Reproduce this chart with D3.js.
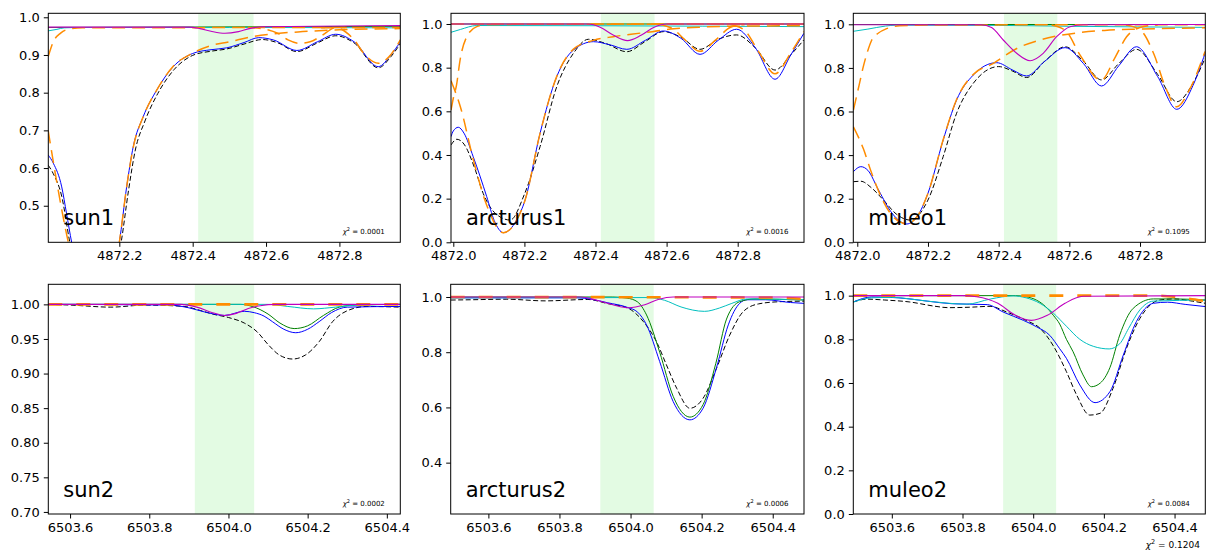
<!DOCTYPE html>
<html><head><meta charset="utf-8">
<script src="https://cdn.jsdelivr.net/npm/d3@7"></script>
<style>body{margin:0;background:#fff} svg{display:block} text{font-family:"DejaVu Sans",sans-serif}</style>
</head><body><svg id="c" width="1206" height="553"></svg>
<script>
// ---------- tick labels ----------
const xTicksSun1 = [4872.2, 4872.4, 4872.6, 4872.8];
const xTicksRow1 = [4872.0, 4872.2, 4872.4, 4872.6, 4872.8];
const xTicksRow2 = [6503.6, 6503.8, 6504.0, 6504.2, 6504.4];
const yTicksSun1 = [0.5, 0.6, 0.7, 0.8, 0.9, 1.0];
const yTicksFull = [0.0, 0.2, 0.4, 0.6, 0.8, 1.0];
const yTicksSun2 = [0.70, 0.75, 0.80, 0.85, 0.90, 0.95, 1.00];
const yTicksArc2 = [0.4, 0.6, 0.8, 1.0];
const panelNames = ["sun1", "arcturus1", "muleo1", "sun2", "arcturus2", "muleo2"];
const chiValues = ["0.0001", "0.0016", "0.1095", "0.0002", "0.0006", "0.0084"];
const chiTotal = "0.1204";
const bandRow1 = [4872.415, 4872.566];
const bandRow2 = [6503.915, 6504.065];

// ---------- sun1 ----------
const sun1Obs = [[4872.006,0.608],[4872.02,0.585],[4872.043,0.525],[4872.065,0.403],[4872.10,0.26],[4872.135,0.2],[4872.17,0.26],[4872.205,0.403],[4872.225,0.54],[4872.243,0.645],[4872.27,0.725],[4872.305,0.798],[4872.35,0.862],[4872.40,0.899],[4872.45,0.910],[4872.493,0.916],[4872.54,0.929],[4872.59,0.941],[4872.63,0.933],[4872.684,0.909],[4872.74,0.932],[4872.79,0.951],[4872.84,0.932],[4872.906,0.866],[4872.94,0.895],[4872.966,0.930]];
const sun1Model = [[4872.006,0.635],[4872.02,0.613],[4872.043,0.550],[4872.056,0.480],[4872.07,0.403],[4872.10,0.28],[4872.135,0.2],[4872.17,0.28],[4872.2,0.403],[4872.22,0.55],[4872.238,0.657],[4872.265,0.736],[4872.302,0.807],[4872.347,0.869],[4872.40,0.904],[4872.45,0.914],[4872.493,0.919],[4872.54,0.933],[4872.58,0.946],[4872.62,0.940],[4872.684,0.912],[4872.74,0.935],[4872.79,0.955],[4872.84,0.935],[4872.906,0.869],[4872.94,0.900],[4872.966,0.935]];
const sun1Green = [[4872.006,0.973],[4872.966,0.976]];
const sun1Cyan = [[4872.006,0.964],[4872.03,0.968],[4872.05,0.972],[4872.1,0.973],[4872.5,0.973],[4872.966,0.972]];
const sun1Magenta = [[4872.006,0.974],[4872.39,0.974],[4872.42,0.970],[4872.45,0.963],[4872.488,0.9575],[4872.525,0.962],[4872.555,0.970],[4872.59,0.975],[4872.966,0.978]];
const sun1OrangeA = [[4872.006,0.895],[4872.02,0.935],[4872.04,0.958],[4872.06,0.968],[4872.1,0.972],[4872.966,0.973]];
const sun1OrangeB = [[4872.006,0.70],[4872.03,0.56],[4872.061,0.403],[4872.1,0.27],[4872.135,0.22],[4872.17,0.27],[4872.2,0.403],[4872.22,0.55],[4872.238,0.655],[4872.265,0.736],[4872.302,0.807],[4872.347,0.870],[4872.40,0.905],[4872.45,0.925],[4872.5,0.935],[4872.56,0.948],[4872.63,0.957],[4872.7,0.962],[4872.8,0.967],[4872.966,0.970]];
const sun1OrangeC = [[4872.55,0.973],[4872.6,0.968],[4872.633,0.957],[4872.66,0.940],[4872.69,0.931],[4872.72,0.935],[4872.75,0.950],[4872.788,0.972],[4872.82,0.973]];
const sun1OrangeD = [[4872.75,0.972],[4872.79,0.972],[4872.84,0.940],[4872.87,0.900],[4872.906,0.878],[4872.935,0.895],[4872.966,0.940]];

// ---------- arcturus1 ----------
const arc1Obs = [[4871.9935,0.446],[4872.01,0.472],[4872.03,0.45],[4872.06,0.34],[4872.084,0.224],[4872.12,0.13],[4872.16,0.102],[4872.2,0.22],[4872.244,0.438],[4872.291,0.713],[4872.338,0.866],[4872.38,0.930],[4872.43,0.91],[4872.488,0.873],[4872.54,0.92],[4872.591,0.965],[4872.64,0.94],[4872.694,0.884],[4872.745,0.93],[4872.797,0.950],[4872.85,0.89],[4872.905,0.789],[4872.95,0.86],[4872.986,0.927]];
const arc1Model = [[4871.9935,0.484],[4872.0,0.51],[4872.014,0.527],[4872.03,0.50],[4872.056,0.392],[4872.094,0.209],[4872.115,0.10],[4872.141,0.044],[4872.178,0.102],[4872.202,0.194],[4872.244,0.499],[4872.291,0.759],[4872.338,0.881],[4872.394,0.919],[4872.44,0.905],[4872.488,0.884],[4872.54,0.925],[4872.591,0.968],[4872.64,0.935],[4872.694,0.861],[4872.745,0.925],[4872.797,0.976],[4872.85,0.89],[4872.905,0.747],[4872.95,0.86],[4872.986,0.957]];
const arc1Green = [[4871.9935,1.0],[4872.986,1.0]];
const arc1Cyan = [[4871.9935,0.962],[4872.02,0.975],[4872.066,0.993],[4872.4,0.992],[4872.7,0.99],[4872.986,0.988]];
const arc1Magenta = [[4871.9935,1.0],[4872.38,1.0],[4872.413,0.985],[4872.451,0.948],[4872.49,0.924],[4872.528,0.948],[4872.565,0.985],[4872.6,1.0],[4872.986,1.0]];
const arc1OrangeA = [[4871.9935,0.606],[4872.0,0.66],[4872.009,0.72],[4872.019,0.835],[4872.038,0.942],[4872.066,0.988],[4872.1,0.998],[4872.986,1.0]];
const arc1OrangeB = [[4871.9935,0.74],[4872.02,0.62],[4872.056,0.38],[4872.094,0.17],[4872.141,0.044],[4872.178,0.10],[4872.202,0.194],[4872.244,0.499],[4872.291,0.76],[4872.338,0.885],[4872.394,0.925],[4872.45,0.942],[4872.5,0.953],[4872.56,0.965],[4872.62,0.978],[4872.7,0.986],[4872.8,0.99],[4872.986,0.992]];
const arc1OrangeC = [[4872.58,0.998],[4872.62,0.975],[4872.65,0.93],[4872.694,0.875],[4872.74,0.93],[4872.78,0.985],[4872.82,0.998]];
const arc1OrangeD = [[4872.78,0.998],[4872.82,0.97],[4872.86,0.87],[4872.905,0.772],[4872.95,0.87],[4872.986,0.965]];
const arc1OrangeE = [[4871.9935,1.0],[4872.986,1.0]];

// ---------- muleo1 ----------
const mu1Obs = [[4871.989,0.278],[4872.01,0.28],[4872.04,0.25],[4872.074,0.194],[4872.11,0.13],[4872.15,0.102],[4872.2,0.194],[4872.243,0.393],[4872.281,0.592],[4872.328,0.729],[4872.40,0.806],[4872.44,0.785],[4872.479,0.756],[4872.53,0.83],[4872.588,0.897],[4872.64,0.83],[4872.691,0.745],[4872.74,0.82],[4872.790,0.885],[4872.85,0.77],[4872.904,0.645],[4872.95,0.73],[4872.984,0.844]];
const mu1Model = [[4871.989,0.324],[4872.010,0.347],[4872.03,0.33],[4872.06,0.24],[4872.1,0.13],[4872.140,0.084],[4872.17,0.12],[4872.2,0.225],[4872.243,0.469],[4872.281,0.653],[4872.328,0.767],[4872.394,0.824],[4872.44,0.79],[4872.479,0.763],[4872.53,0.83],[4872.588,0.893],[4872.64,0.82],[4872.691,0.717],[4872.74,0.81],[4872.790,0.897],[4872.85,0.76],[4872.904,0.610],[4872.95,0.72],[4872.984,0.867]];
const mu1Green = [[4871.989,0.999],[4872.984,0.999]];
const mu1Cyan = [[4871.989,0.968],[4872.03,0.978],[4872.08,0.992],[4872.11,0.996],[4872.4,0.995],[4872.6,0.991],[4872.984,0.986]];
const mu1Magenta = [[4871.989,0.998],[4872.35,0.998],[4872.38,0.985],[4872.413,0.928],[4872.451,0.867],[4872.489,0.833],[4872.526,0.867],[4872.564,0.943],[4872.602,0.989],[4872.64,0.998],[4872.984,0.999]];
const mu1OrangeA = [[4871.989,0.607],[4872.005,0.72],[4872.017,0.806],[4872.028,0.87],[4872.041,0.928],[4872.06,0.96],[4872.083,0.98],[4872.12,0.993],[4872.2,0.997],[4872.984,0.998]];
const mu1OrangeB = [[4871.989,0.53],[4872.017,0.43],[4872.04,0.32],[4872.07,0.2],[4872.1,0.12],[4872.14,0.085],[4872.17,0.12],[4872.2,0.225],[4872.243,0.47],[4872.281,0.655],[4872.328,0.77],[4872.385,0.821],[4872.45,0.888],[4872.51,0.925],[4872.56,0.945],[4872.63,0.962],[4872.7,0.972],[4872.8,0.978],[4872.984,0.984]];
const mu1OrangeC = [[4872.55,0.997],[4872.59,0.97],[4872.63,0.86],[4872.69,0.744],[4872.73,0.85],[4872.762,0.943],[4872.8,0.985],[4872.85,0.997]];
const mu1OrangeD = [[4872.76,0.997],[4872.8,0.975],[4872.84,0.86],[4872.87,0.72],[4872.904,0.622],[4872.94,0.7],[4872.984,0.875]];

// ---------- sun2 ----------
const sun2Obs = [[6503.545,1.0],[6503.6,0.999],[6503.703,0.996],[6503.79,0.999],[6503.888,0.997],[6503.93,0.991],[6503.96,0.986],[6504.0,0.981],[6504.04,0.973],[6504.073,0.96],[6504.1,0.942],[6504.128,0.927],[6504.162,0.921],[6504.195,0.927],[6504.229,0.946],[6504.263,0.975],[6504.305,0.992],[6504.35,0.997],[6504.434,0.996]];
const sun2Model = [[6503.545,1.0],[6503.85,0.999],[6503.9,0.995],[6503.94,0.989],[6503.99,0.984],[6504.04,0.990],[6504.065,0.988],[6504.09,0.983],[6504.111,0.975],[6504.14,0.964],[6504.17,0.959],[6504.2,0.964],[6504.229,0.975],[6504.26,0.988],[6504.3,0.996],[6504.434,0.997]];
const sun2Green = [[6503.545,1.0],[6504.03,1.0],[6504.06,0.997],[6504.1,0.986],[6504.13,0.973],[6504.166,0.965],[6504.2,0.969],[6504.24,0.984],[6504.28,0.996],[6504.32,0.999],[6504.434,1.0]];
const sun2Cyan = [[6503.545,1.0],[6504.1,1.0],[6504.15,0.997],[6504.215,0.9935],[6504.27,0.996],[6504.32,0.999],[6504.434,1.0]];
const sun2Magenta = [[6503.545,1.0],[6503.88,1.0],[6503.92,0.996],[6503.96,0.988],[6503.99,0.984],[6504.02,0.987],[6504.05,0.994],[6504.08,0.998],[6504.12,1.0],[6504.434,1.0]];
const sun2Orange = [[6503.545,1.0],[6504.434,1.0]];

// ---------- arcturus2 ----------
const arc2Obs = [[6503.494,0.989],[6503.55,0.99],[6503.65,0.992],[6503.76,0.986],[6503.88,0.991],[6503.936,0.976],[6503.992,0.960],[6504.036,0.911],[6504.073,0.838],[6504.101,0.754],[6504.13,0.669],[6504.167,0.597],[6504.204,0.633],[6504.242,0.742],[6504.279,0.862],[6504.317,0.947],[6504.36,0.975],[6504.42,0.983],[6504.488,0.985]];
const arc2Model = [[6503.494,0.997],[6503.85,0.997],[6503.889,0.992],[6503.936,0.979],[6503.992,0.962],[6504.02,0.945],[6504.045,0.899],[6504.082,0.766],[6504.12,0.621],[6504.167,0.555],[6504.204,0.597],[6504.242,0.745],[6504.275,0.899],[6504.307,0.977],[6504.328,0.99],[6504.38,0.99],[6504.45,0.98],[6504.488,0.977]];
const arc2Green = [[6503.494,1.0],[6503.95,1.0],[6503.99,0.996],[6504.02,0.982],[6504.045,0.935],[6504.082,0.80],[6504.12,0.64],[6504.167,0.565],[6504.204,0.61],[6504.24,0.76],[6504.27,0.92],[6504.307,0.983],[6504.35,0.993],[6504.488,0.989]];
const arc2Cyan = [[6503.494,0.997],[6504.05,0.998],[6504.096,0.988],[6504.142,0.964],[6504.208,0.948],[6504.25,0.96],[6504.283,0.976],[6504.328,0.993],[6504.488,0.99]];
const arc2Magenta = [[6503.494,1.0],[6503.86,1.0],[6503.9,0.99],[6503.95,0.972],[6503.995,0.961],[6504.04,0.972],[6504.08,0.992],[6504.12,1.0],[6504.488,1.0]];
const arc2Orange = [[6503.494,1.0],[6504.4,0.998],[6504.488,0.993]];

// ---------- muleo2 ----------
const mu2Obs = [[6503.491,0.971],[6503.529,0.984],[6503.58,0.98],[6503.651,0.971],[6503.72,0.952],[6503.76,0.945],[6503.82,0.947],[6503.878,0.951],[6503.925,0.925],[6503.981,0.886],[6504.019,0.851],[6504.057,0.770],[6504.094,0.652],[6504.123,0.545],[6504.16,0.453],[6504.189,0.461],[6504.226,0.576],[6504.264,0.759],[6504.302,0.896],[6504.358,0.980],[6504.4,0.985],[6504.45,0.975],[6504.487,0.965]];
const mu2Model = [[6503.491,0.971],[6503.543,0.994],[6503.62,0.99],[6503.7,0.975],[6503.77,0.963],[6503.87,0.959],[6503.915,0.925],[6503.972,0.887],[6504.01,0.857],[6504.047,0.818],[6504.075,0.757],[6504.094,0.713],[6504.132,0.591],[6504.175,0.510],[6504.217,0.560],[6504.255,0.728],[6504.292,0.881],[6504.34,0.965],[6504.38,0.97],[6504.43,0.96],[6504.487,0.950]];
const mu2Green = [[6503.491,1.0],[6503.95,1.0],[6503.98,0.995],[6504.01,0.979],[6504.035,0.95],[6504.057,0.91],[6504.075,0.87],[6504.094,0.80],[6504.113,0.743],[6504.141,0.637],[6504.165,0.583],[6504.19,0.60],[6504.217,0.67],[6504.245,0.82],[6504.283,0.942],[6504.34,0.985],[6504.4,0.985],[6504.487,0.98]];
const mu2Cyan = [[6503.491,0.971],[6503.543,0.99],[6503.6,0.992],[6503.7,0.975],[6503.812,0.961],[6503.88,0.985],[6503.943,0.999],[6503.98,0.99],[6504.019,0.965],[6504.057,0.92],[6504.094,0.86],[6504.132,0.80],[6504.17,0.768],[6504.215,0.756],[6504.245,0.78],[6504.27,0.85],[6504.302,0.935],[6504.34,0.975],[6504.487,0.98]];
const mu2Magenta = [[6503.491,1.0],[6503.8,1.0],[6503.84,0.995],[6503.9,0.965],[6503.95,0.91],[6503.995,0.887],[6504.04,0.91],[6504.09,0.965],[6504.141,0.997],[6504.487,1.0]];
const mu2Orange = [[6503.491,1.0],[6504.35,1.0],[6504.42,0.99],[6504.487,0.975]];

// ---------- layout (options built from the arrays above) ----------
const panels = [
  {box:[48.3,13.3,400.3,242.3], xd:[4872.0064,4872.966], yd:[0.403,1.0106], xt:xTicksSun1, yt:yTicksSun1, yf:".1f", band:bandRow1, row:1,
   obs:sun1Obs, model:sun1Model, green:sun1Green, cyan:sun1Cyan, magenta:sun1Magenta, orange:[sun1OrangeA,sun1OrangeB,sun1OrangeC,sun1OrangeD]},
  {box:[451,13.3,804,242.3], xd:[4871.9935,4872.9865], yd:[0,1.049], xt:xTicksRow1, yt:yTicksFull, yf:".1f", band:bandRow1, row:1,
   obs:arc1Obs, model:arc1Model, green:arc1Green, cyan:arc1Cyan, magenta:arc1Magenta, orange:[arc1OrangeE,arc1OrangeA,arc1OrangeB,arc1OrangeC,arc1OrangeD]},
  {box:[853.3,13.3,1205.3,242.3], xd:[4871.9887,4872.9847], yd:[0,1.0505], xt:xTicksRow1, yt:yTicksFull, yf:".1f", band:bandRow1, row:1,
   obs:mu1Obs, model:mu1Model, green:mu1Green, cyan:mu1Cyan, magenta:mu1Magenta, orange:[mu1OrangeA,mu1OrangeB,mu1OrangeC,mu1OrangeD]},
  {box:[48.3,284.3,400.3,514], xd:[6503.545,6504.434], yd:[0.697,1.029], xt:xTicksRow2, yt:yTicksSun2, yf:".2f", band:bandRow2, row:2,
   obs:sun2Obs, model:sun2Model, green:sun2Green, cyan:sun2Cyan, magenta:sun2Magenta, orange:[sun2Orange]},
  {box:[450.7,284.3,804,514], xd:[6503.494,6504.488], yd:[0.214,1.046], xt:xTicksRow2, yt:yTicksArc2, yf:".1f", band:bandRow2, row:2,
   obs:arc2Obs, model:arc2Model, green:arc2Green, cyan:arc2Cyan, magenta:arc2Magenta, orange:[arc2Orange]},
  {box:[853.3,284.3,1205.3,514], xd:[6503.491,6504.487], yd:[0,1.052], xt:xTicksRow2, yt:yTicksFull, yf:".1f", band:bandRow2, row:2,
   obs:mu2Obs, model:mu2Model, green:mu2Green, cyan:mu2Cyan, magenta:mu2Magenta, orange:[mu2Orange]}
];

const svg = d3.select("#c");
panels.forEach((p, i) => {
  const [l, t, r, b] = p.box;
  const x = d3.scaleLinear().domain(p.xd).range([l, r]);
  const y = d3.scaleLinear().domain(p.yd).range([b, t]);
  const clipId = "clip" + i;
  svg.append("clipPath").attr("id", clipId).append("rect")
    .attr("x", l).attr("y", t).attr("width", r - l).attr("height", b - t);
  const g = svg.append("g");
  const plot = g.append("g").attr("clip-path", `url(#${clipId})`);
  plot.append("rect").attr("x", x(p.band[0])).attr("y", t)
    .attr("width", x(p.band[1]) - x(p.band[0])).attr("height", b - t)
    .attr("fill", "#e3fbe3");
  const line = d3.line().x(d => x(d[0])).y(d => y(d[1])).curve(d3.curveMonotoneX);
  const draw = (data, color, w, dash) => {
    const path = plot.append("path").datum(data).attr("d", line)
      .attr("fill", "none").attr("stroke", color).attr("stroke-width", w);
    if (dash) path.attr("stroke-dasharray", dash);
  };
  draw(p.obs, "#000", 1, "5,2.5");
  draw(p.model, "#0000ff", 1);
  draw(p.green, "#008000", 1);
  draw(p.cyan, "#00bfbf", 1);
  p.orange.forEach(o => draw(o, "#ff8c00", p.row === 1 ? 1.5 : 2.6, p.row === 1 ? "13,7" : "14,14"));
  draw(p.magenta, "#bf00bf", 1.1);

  // axes
  const xa = g.append("g").attr("transform", `translate(0,${b})`)
    .call(d3.axisBottom(x).tickValues(p.xt).tickFormat(d3.format(".1f")).tickSize(4.5).tickPadding(4).tickSizeOuter(0));
  const ya = g.append("g").attr("transform", `translate(${l},0)`)
    .call(d3.axisLeft(y).tickValues(p.yt).tickFormat(d3.format(p.yf)).tickSize(4.5).tickPadding(4).tickSizeOuter(0));
  [xa, ya].forEach(a => {
    a.select(".domain").remove();
    a.selectAll("line").attr("stroke", "#000").attr("stroke-width", 1);
    a.selectAll("text").attr("font-size", 13).attr("fill", "#000").attr("font-family", "DejaVu Sans");
  });
  g.append("rect").attr("x", l).attr("y", t).attr("width", r - l).attr("height", b - t)
    .attr("fill", "none").attr("stroke", "#000").attr("stroke-width", 1);

  // labels
  g.append("text").attr("x", l + 15).attr("y", b - 17).attr("font-size", 21).attr("fill", "#000").text(panelNames[i]);
  const ct = g.append("text").attr("x", r - 15.5).attr("y", b - 8.5).attr("text-anchor", "end").attr("font-size", 7).attr("fill", "#000");
  ct.append("tspan").attr("font-style", "italic").text("χ");
  ct.append("tspan").attr("font-size", 5).attr("dy", -3).text("2");
  ct.append("tspan").attr("dy", 3).text(" = " + chiValues[i]);
});
const tot = svg.append("text").attr("x", 1200).attr("y", 548).attr("text-anchor", "end").attr("font-size", 9).attr("fill", "#000");
tot.append("tspan").attr("font-style", "italic").text("χ");
tot.append("tspan").attr("font-size", 6.5).attr("dy", -4).text("2");
tot.append("tspan").attr("dy", 4).text(" = " + chiTotal);
</script></body></html>
